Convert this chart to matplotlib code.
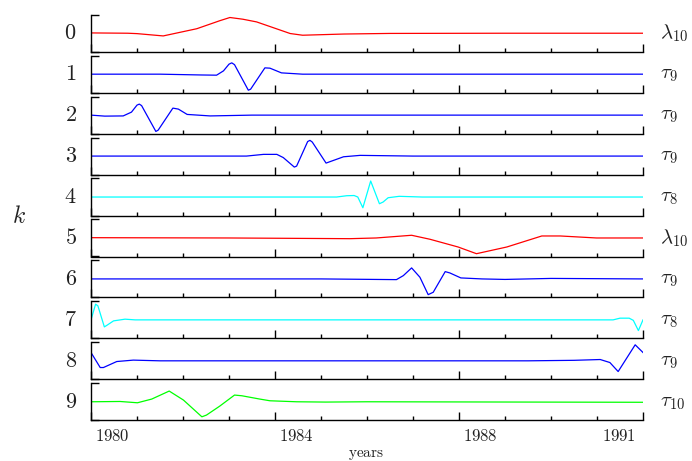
import matplotlib
matplotlib.use("Agg")
import matplotlib.pyplot as plt
import matplotlib.transforms as mtransforms
import numpy as np

plt.rcParams['mathtext.fontset'] = 'cm'

START = 1979.53  # left edge of the time axis (decimal years)

# panel order 0..9 : right-hand labels and colours
right_labels = [r'$\lambda_{10}$', r'$\tau_9$', r'$\tau_9$', r'$\tau_9$', r'$\tau_8$',
                r'$\lambda_{10}$', r'$\tau_9$', r'$\tau_8$', r'$\tau_9$', r'$\tau_{10}$']
colors = ['#ff0000', '#0000ff', '#0000ff', '#0000ff', '#00ffff',
          '#ff0000', '#0000ff', '#00ffff', '#0000ff', '#00ff00']

# series: time (years since START) and value (arbitrary units)
t0 = [0, 0.8, 1.0, 1.57, 2.3, 2.8, 3.02, 3.3, 3.6, 4.33, 4.6, 5.5, 6.5, 9, 12]
v0 = [0.3, 0.0, -0.4, -2.7, 4.5, 12.5, 15.7, 14.0, 11.3, -0.3, -2.0, -0.8, -0.2, 0, 0]

t1 = [0, 1.5, 2.4, 2.73, 2.88, 3.0, 3.06, 3.12, 3.42, 3.47, 3.78, 3.89, 4.14, 4.6, 12]
v1 = [0, 0, -0.8, -1.0, 3.3, 10.0, 11.3, 9.5, -16.0, -15.0, 6.3, 6.0, 1.3, 0, 0]

t2 = [0, 0.3, 0.70, 0.88, 1.0, 1.05, 1.1, 1.41, 1.46, 1.78, 1.90, 2.09, 2.59, 3.5, 12]
v2 = [0, -1.0, -0.8, 3.0, 10.0, 11.0, 9.5, -16.3, -15.0, 7.0, 6.0, 0.7, -0.8, 0, 0]

t3 = [0, 3.38, 3.75, 4.04, 4.18, 4.42, 4.47, 4.71, 4.76, 4.81, 5.11, 5.49, 5.85, 7, 12]
v3 = [0, 0, 1.7, 1.7, -1.5, -11.0, -10.0, 14.5, 15.7, 14.0, -7.0, -0.7, 0.7, 0, 0]

t4 = [0, 5.34, 5.56, 5.72, 5.8, 5.91, 6.08, 6.27, 6.35, 6.46, 6.7, 7.2, 12]
v4 = [0, 0, 1.3, 1.5, 0, -10.7, 16.0, -6.7, -5.0, -0.7, 0.7, 0, 0]

t5 = [0, 3.0, 5.63, 6.2, 6.97, 7.37, 7.98, 8.38, 9.04, 9.80, 10.2, 10.99, 12]
v5 = [0.3, 0, -0.7, 0, 2.7, -1.3, -9.0, -15.7, -9.0, 2.0, 2.0, 0, 0]

t6 = [0, 5.0, 6.64, 6.79, 6.97, 7.15, 7.33, 7.44, 7.70, 7.80, 8.04, 8.5, 9.0, 10, 12]
v6 = [0, 0, -0.7, 3.3, 11.0, 1.7, -15.7, -13.3, 7.3, 6.0, 1.0, 0, -0.5, 0.5, 0]

t7 = [0, 0.1, 0.15, 0.29, 0.35, 0.49, 0.74, 0.96, 11.35, 11.5, 11.7, 11.79, 11.9, 12]
v7 = [0, 15.7, 14.0, -7.0, -5.3, -1.0, 0.7, 0, 0, 1.7, 1.7, -0.5, -10.7, 0]

t8 = [0, 0.2, 0.27, 0.56, 0.92, 1.5, 9.5, 10.5, 11.07, 11.28, 11.46, 11.83, 12]
v8 = [8.3, -6.7, -6.7, -0.7, 0.7, 0, 0, 0.5, 1.3, -1.7, -10.7, 16.0, 8.3]

t9 = [0, 0.63, 1.01, 1.32, 1.70, 2.01, 2.41, 2.51, 2.80, 3.12, 3.28, 3.67, 3.89, 4.47, 5.1, 6, 12]
v9 = [0, 0.3, -1.0, 2.7, 10.7, 1.7, -15.0, -13.3, -4.3, 6.7, 6.0, 2.7, 1.0, 0, -0.3, 0, -0.5]

series_t = [t0, t1, t2, t3, t4, t5, t6, t7, t8, t9]
series_v = [v0, v1, v2, v3, v4, v5, v6, v7, v8, v9]

year_labels = ['1980', '1984', '1988', '1991']
year_pos = [1980, 1984, 1988, 1991]

W, H = 692, 461
fig = plt.figure(figsize=(W / 100, H / 100), dpi=100)

ax_left_px, ax_w_px = 91, 552
top0_px, step_px, h_px = 14.7, 40.95, 37.05
YL = 18.5
txtc = '#222222'
pt = 72 / 100.0

axes = []
for i in range(10):
    top = top0_px + i * step_px
    ax = fig.add_axes([ax_left_px / W, 1 - (top + h_px) / H, ax_w_px / W, h_px / H])
    axes.append(ax)
    x = START + np.array(series_t[i])
    ax.plot(x, series_v[i], color=colors[i], lw=0.9)
    ax.set_xlim(START, START + 12)
    ax.set_ylim(-YL, YL)
    for s in ['top', 'right']:
        ax.spines[s].set_visible(False)
    for s in ['left', 'bottom']:
        ax.spines[s].set_linewidth(1.0)
        ax.spines[s].set_color('black')
    ax.set_xticks(START + np.array([0, 4, 8, 12]))
    ax.set_xticks(START + np.array([1, 2, 3, 5, 6, 7, 9, 10, 11]), minor=True)
    ax.set_yticks([-YL, YL])
    ax.tick_params(axis='x', which='major', direction='in', length=8 * pt, width=1.0,
                   labelbottom=False)
    ax.tick_params(axis='x', which='minor', direction='in', length=4 * pt, width=1.0)
    ax.tick_params(axis='y', which='major', direction='in', length=8 * pt, width=1.0,
                   labelleft=False)
    ax.text(-0.026, 0.5, r'$%d$' % i, transform=ax.transAxes, ha='right', va='center',
            fontsize=16, color=txtc)
    ax.text(1.031, 0.5, right_labels[i], transform=ax.transAxes, ha='left', va='center',
            fontsize=15, color=txtc)

axb = axes[-1]
trans = mtransforms.blended_transform_factory(axb.transData, axb.transAxes)
for p, lab in zip(year_pos, year_labels):
    axb.text(p, -15.7 / h_px, r'$\mathrm{%s}$' % lab, transform=trans, ha='center',
             va='center', fontsize=12, color=txtc)

fig.text(366 / W, 1 - 454 / H, r'$\mathrm{years}$', ha='center', va='center',
         fontsize=11, color=txtc)
fig.text(18.7 / W, 1 - 216 / H, r'$k$', ha='center', va='center', fontsize=17,
         color=txtc)

fig.savefig('out.png', dpi=100)
